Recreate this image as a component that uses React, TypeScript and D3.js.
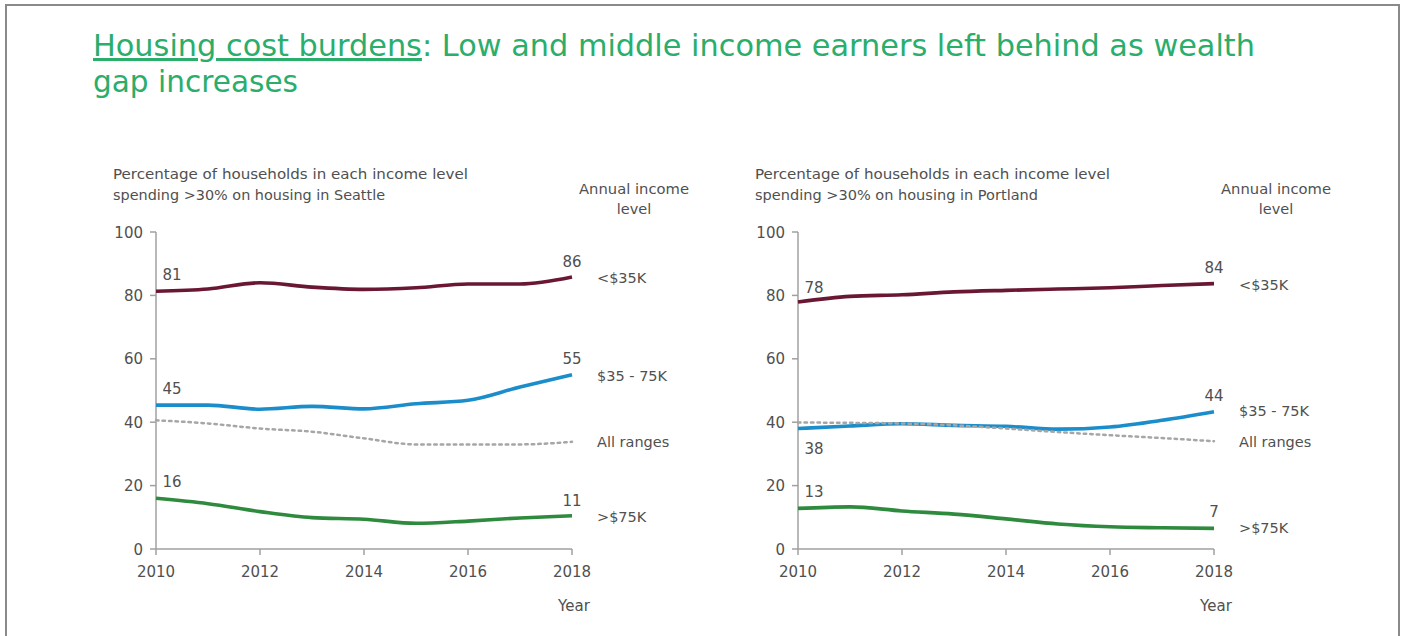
import React from "react";
import * as d3 from "d3";

const years = [2010, 2011, 2012, 2013, 2014, 2015, 2016, 2017, 2018];
const yTicks = [0, 20, 40, 60, 80, 100];
const xTicks = [2010, 2012, 2014, 2016, 2018];

const seriesNames = ["<$35K", "$35 - 75K", "All ranges", ">$75K"];

const seattleLow = [81.3, 82, 84, 82.6, 81.9, 82.4, 83.6, 83.6, 85.8];
const seattleMid = [45.4, 45.4, 44.1, 45, 44.2, 45.8, 46.9, 51.1, 55];
const seattleAll = [40.6, 39.6, 38, 37, 34.9, 33, 33, 33, 33.8];
const seattleHigh = [16, 14.3, 11.8, 9.9, 9.4, 8.1, 8.8, 9.8, 10.5];

const portlandLow = [77.9, 79.7, 80.2, 81.1, 81.6, 82, 82.4, 83.1, 83.7];
const portlandMid = [38, 38.8, 39.5, 39, 38.7, 37.8, 38.5, 40.6, 43.3];
const portlandAll = [39.9, 39.8, 39.6, 39, 38, 36.9, 35.9, 35, 34];
const portlandHigh = [12.8, 13.3, 12, 11, 9.5, 7.9, 7, 6.7, 6.5];

const seattleStartLabels = ["81", "45", "", "16"];
const seattleEndLabels = ["86", "55", "", "11"];
const portlandStartLabels = ["78", "38", "", "13"];
const portlandEndLabels = ["84", "44", "", "7"];

const colors = ["#6a1733", "#1c8dcb", "#a6a6a6", "#2e8a3d"];
const FONT = "'DejaVu Sans', sans-serif";
const TXT = "#505050";

type PanelProps = {
  left: number;
  city: string;
  data: number[][];
  startLabels: string[];
  endLabels: string[];
  startOffsets: number[];
  endOffsets: number[];
  legendY: number[];
};

function Panel({ left, city, data, startLabels, endLabels, startOffsets, endOffsets, legendY }: PanelProps) {
  const x = d3.scaleLinear().domain([2010, 2018]).range([left, left + 416]);
  const y = d3.scaleLinear().domain([0, 100]).range([549, 232]);
  const line = d3
    .line<number>()
    .x((_, i) => x(years[i]))
    .y((v) => y(v))
    .curve(d3.curveMonotoneX);
  const x0 = x(2010);
  const x1 = x(2018);
  return (
    <g fontFamily={FONT} fill={TXT}>
      <text x={left - 43} y={179} fontSize={14.5} textLength={355} lengthAdjust="spacingAndGlyphs">
        Percentage of households in each income level
      </text>
      <text x={left - 43} y={200} fontSize={14.5} textLength={city === "Seattle" ? 272 : 283} lengthAdjust="spacingAndGlyphs">
        {`spending >30% on housing in ${city}`}
      </text>
      <text x={x1 + 62} y={194} fontSize={14.5} textAnchor="middle" textLength={110} lengthAdjust="spacingAndGlyphs">Annual income</text>
      <text x={x1 + 62} y={214} fontSize={14.5} textAnchor="middle">level</text>

      {/* y axis */}
      <line x1={x0} x2={x0} y1={y(100)} y2={y(0)} stroke="#a0a0a0" strokeWidth={1.5} />
      {yTicks.map((t) => (
        <g key={t}>
          <line x1={x0 - 6} x2={x0} y1={y(t)} y2={y(t)} stroke="#a0a0a0" strokeWidth={1.5} />
          <text x={x0 - 13} y={y(t) + 5.5} fontSize={15} textAnchor="end">{t}</text>
        </g>
      ))}
      {/* x axis */}
      <line x1={x0} x2={x1} y1={y(0)} y2={y(0)} stroke="#a0a0a0" strokeWidth={1.5} />
      {xTicks.map((t) => (
        <g key={t}>
          <line x1={x(t)} x2={x(t)} y1={y(0)} y2={y(0) + 6} stroke="#a0a0a0" strokeWidth={1.5} />
          <text x={x(t)} y={y(0) + 28} fontSize={15} textAnchor="middle">{t}</text>
        </g>
      ))}
      <text x={x1 + 2} y={611} fontSize={15} textAnchor="middle">Year</text>

      {data.map((d, i) => (
        <path
          key={i}
          d={line(d) || ""}
          fill="none"
          stroke={colors[i]}
          strokeWidth={i === 2 ? 2.5 : 3.6}
          strokeDasharray={i === 2 ? "2.5,4" : undefined}
          strokeLinecap={i === 2 ? "round" : "butt"}
        />
      ))}
      {data.map((d, i) =>
        startLabels[i] ? (
          <text key={"s" + i} x={x0 + 16} y={y(d[0]) + startOffsets[i]} fontSize={15} textAnchor="middle">
            {startLabels[i]}
          </text>
        ) : null
      )}
      {data.map((d, i) =>
        endLabels[i] ? (
          <text key={"e" + i} x={x1} y={y(d[d.length - 1]) + endOffsets[i]} fontSize={15} textAnchor="middle">
            {endLabels[i]}
          </text>
        ) : null
      )}
      {seriesNames.map((n, i) => (
        <text key={n} x={x1 + 25} y={legendY[i] + 5} fontSize={14.5}>{n}</text>
      ))}
    </g>
  );
}

export default function App() {
  return (
    <svg
      width={1405}
      height={636}
      style={{ position: "absolute", left: 0, top: 0, background: "#fff" }}
    >
      <rect x={0} y={0} width={1405} height={636} fill="#fff" />
      <path d="M6,640 V5 H1399 V640" fill="none" stroke="#8a8a8a" strokeWidth={2} />
      <text
        x={93}
        y={56}
        fontFamily={FONT}
        fontSize={30.5}
        fill="#2bad6c"
        textLength={1162}
        lengthAdjust="spacingAndGlyphs"
      >
        <tspan textDecoration="underline">Housing cost burdens</tspan>
        <tspan>: Low and middle income earners left behind as wealth</tspan>
      </text>
      <text
        x={93}
        y={92}
        fontFamily={FONT}
        fontSize={30.5}
        fill="#2bad6c"
        textLength={205}
        lengthAdjust="spacingAndGlyphs"
      >
        gap increases
      </text>
      <Panel
        left={156}
        city="Seattle"
        data={[seattleLow, seattleMid, seattleAll, seattleHigh]}
        startLabels={seattleStartLabels}
        endLabels={seattleEndLabels}
        startOffsets={[-11, -11, 0, -11]}
        endOffsets={[-10, -11, 0, -10]}
        legendY={[278, 376, 442, 517]}
      />
      <Panel
        left={798}
        city="Portland"
        data={[portlandLow, portlandMid, portlandAll, portlandHigh]}
        startLabels={portlandStartLabels}
        endLabels={portlandEndLabels}
        startOffsets={[-9, 25, 0, -11]}
        endOffsets={[-11, -11, 0, -11]}
        legendY={[285, 411, 442, 528]}
      />
    </svg>
  );
}
